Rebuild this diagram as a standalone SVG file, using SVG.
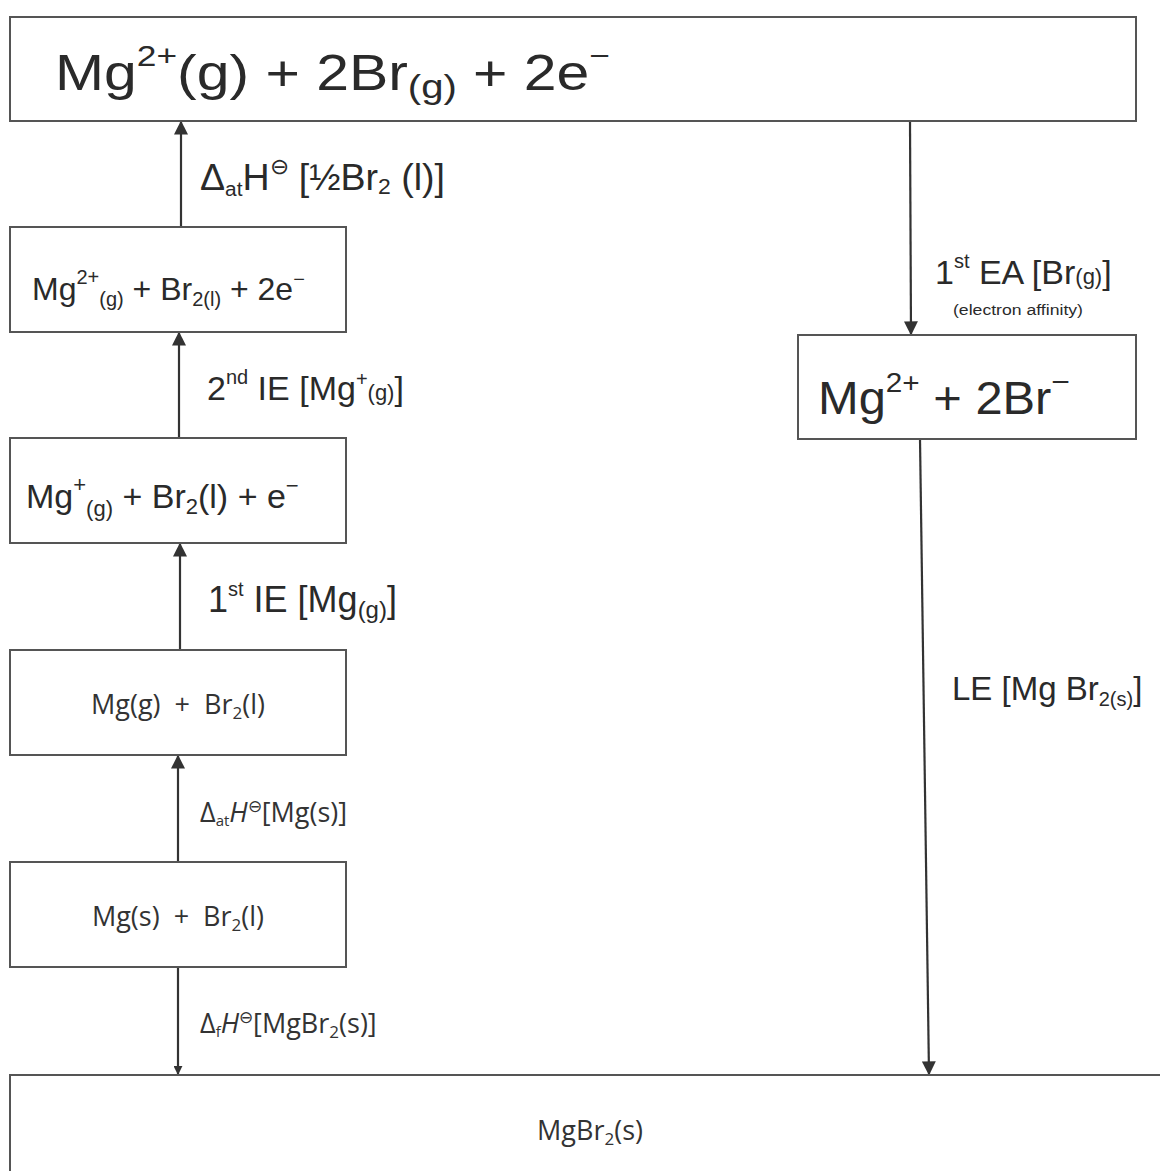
<svg xmlns="http://www.w3.org/2000/svg" width="1160" height="1171" viewBox="0 0 1160 1171">
<defs>
<style>
.box{fill:#fff;stroke:#555;stroke-width:2}
.hw{font-family:"Liberation Sans",Arial,sans-serif;fill:#2a2a2a}
.pr{font-family:"Open Sans","Noto Sans",sans-serif;fill:#333;font-size:27px}
.ln{stroke:#333;stroke-width:2.2;fill:none}
</style>
<marker id="ah" viewBox="0 0 10 10" refX="9" refY="5" markerWidth="9" markerHeight="9" orient="auto" markerUnits="userSpaceOnUse">
<path d="M0,0 L10,5 L0,10 z" fill="#333"/>
</marker>
<marker id="ahL" viewBox="0 0 10 10" refX="9" refY="5" markerWidth="14" markerHeight="14" orient="auto" markerUnits="userSpaceOnUse">
<path d="M0,0 L10,5 L0,10 z" fill="#333"/>
</marker>
</defs>
<rect width="1160" height="1171" fill="#fff"/>

<g id="connectors">
<line class="ln" x1="181" y1="227" x2="181" y2="122" marker-end="url(#ahL)"/>
<line class="ln" x1="179" y1="438" x2="179" y2="333" marker-end="url(#ahL)"/>
<line class="ln" x1="180" y1="650" x2="180" y2="544" marker-end="url(#ahL)"/>
<line class="ln" x1="178" y1="862" x2="178" y2="756" marker-end="url(#ahL)"/>
<line class="ln" x1="178" y1="967" x2="178" y2="1074" marker-end="url(#ah)"/>
<line class="ln" x1="910" y1="121" x2="911" y2="334" marker-end="url(#ahL)"/>
<line class="ln" x1="920" y1="439" x2="929" y2="1074" marker-end="url(#ahL)"/>
</g>

<g id="top">
<rect class="box" x="10" y="17" width="1126" height="104"/>
<text class="hw" x="55" y="90" font-size="50" textLength="555" lengthAdjust="spacingAndGlyphs">Mg<tspan font-size="30" dy="-24">2+</tspan><tspan dy="24">(g) + 2Br</tspan><tspan font-size="34" dy="8">(g)</tspan><tspan dy="-8"> + 2e</tspan><tspan font-size="30" dy="-24">−</tspan></text>
</g>

<g id="nodeA">
<rect class="box" x="10" y="227" width="336" height="105"/>
<text class="hw" x="32" y="300" font-size="32">Mg<tspan font-size="20" dy="-16">2+</tspan><tspan font-size="20" dy="22">(g)</tspan><tspan dy="-6"> + Br</tspan><tspan font-size="20" dy="6">2(l)</tspan><tspan dy="-6"> + 2e</tspan><tspan font-size="20" dy="-14">−</tspan></text>
</g>

<g id="nodeB">
<rect class="box" x="10" y="438" width="336" height="105"/>
<text class="hw" x="26" y="508" font-size="34">Mg<tspan font-size="22" dy="-16">+</tspan><tspan font-size="22" dy="24">(g)</tspan><tspan dy="-8"> + Br</tspan><tspan font-size="22" dy="6">2</tspan><tspan dy="-6">(l) + e</tspan><tspan font-size="22" dy="-15">−</tspan></text>
</g>

<g id="nodeC">
<rect class="box" x="10" y="650" width="336" height="105"/>
<text class="pr" x="178" y="714" text-anchor="middle" xml:space="preserve">Mg(g)  +  Br<tspan font-size="17" dy="5">2</tspan><tspan dy="-5">(l)</tspan></text>
</g>

<g id="nodeD">
<rect class="box" x="10" y="862" width="336" height="105"/>
<text class="pr" x="178" y="926" text-anchor="middle" xml:space="preserve">Mg(s)  +  Br<tspan font-size="17" dy="5">2</tspan><tspan dy="-5">(l)</tspan></text>
</g>

<g id="nodeE">
<rect class="box" x="798" y="335" width="338" height="104"/>
<text class="hw" x="818" y="414" font-size="46" textLength="252" lengthAdjust="spacingAndGlyphs">Mg<tspan font-size="28" dy="-22">2+</tspan><tspan dy="22"> + 2Br</tspan><tspan font-size="30" dy="-22">−</tspan></text>
</g>

<g id="bottom">
<rect class="box" x="10" y="1075" width="1160" height="110"/>
<text class="pr" x="590" y="1140" text-anchor="middle">MgBr<tspan font-size="17" dy="5">2</tspan><tspan dy="-5">(s)</tspan></text>
</g>

<g id="labels">
<text class="hw" x="200" y="190" font-size="36" textLength="245" lengthAdjust="spacingAndGlyphs">Δ<tspan font-size="20" dy="6">at</tspan><tspan dy="-6">H</tspan><tspan font-size="22" dy="-16">⊖</tspan><tspan dy="16"> [½Br</tspan><tspan font-size="22" dy="4">2</tspan><tspan dy="-4"> (l)]</tspan></text>
<text class="hw" x="207" y="400" font-size="34">2<tspan font-size="20" dy="-16">nd</tspan><tspan dy="16"> IE [Mg</tspan><tspan font-size="20" dy="-14">+</tspan><tspan font-size="22" dy="14">(g)</tspan>]</text>
<text class="hw" x="208" y="612" font-size="36">1<tspan font-size="20" dy="-16">st</tspan><tspan dy="16"> IE [Mg</tspan><tspan font-size="24" dy="6">(g)</tspan><tspan dy="-6">]</tspan></text>
<text class="pr" x="200" y="822">Δ<tspan font-size="15" dy="4">at</tspan><tspan font-style="italic" dy="-4">H</tspan><tspan font-size="17" dy="-10">⊖</tspan><tspan dy="10">[Mg(s)]</tspan></text>
<text class="pr" x="200" y="1033">Δ<tspan font-size="15" dy="4">f</tspan><tspan font-style="italic" dy="-4">H</tspan><tspan font-size="17" dy="-10">⊖</tspan><tspan dy="10">[MgBr</tspan><tspan font-size="17" dy="5">2</tspan><tspan dy="-5">(s)]</tspan></text>
<text class="hw" x="935" y="284" font-size="34">1<tspan font-size="20" dy="-16">st</tspan><tspan dy="16"> EA [Br</tspan><tspan font-size="22">(g)</tspan>]</text>
<text class="hw" x="953" y="315" font-size="14" textLength="130" lengthAdjust="spacingAndGlyphs">(electron affinity)</text>
<text class="hw" x="952" y="700" font-size="33">LE [Mg Br<tspan font-size="20" dy="6">2(s)</tspan><tspan dy="-6">]</tspan></text>
</g>
</svg>
